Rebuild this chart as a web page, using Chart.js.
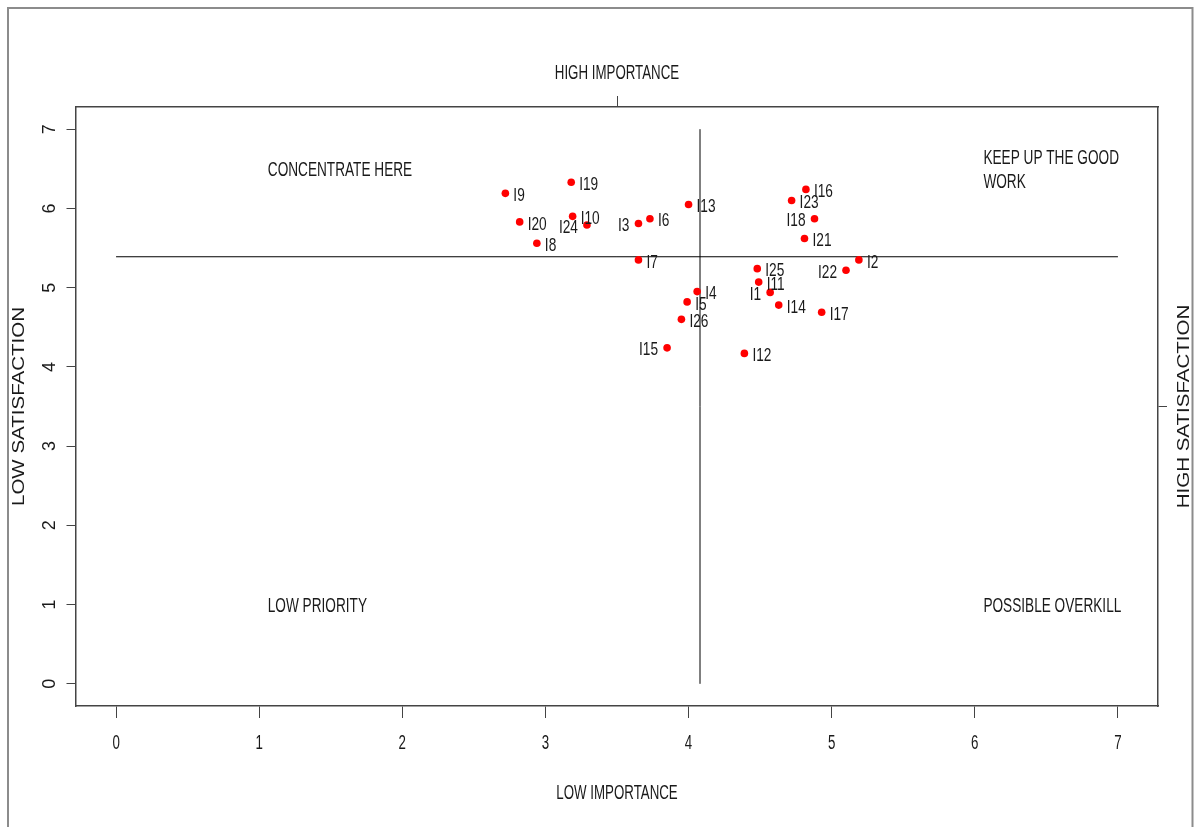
<!DOCTYPE html>
<html><head><meta charset="utf-8">
<script src="https://cdn.jsdelivr.net/npm/chart.js@4.4.1/dist/chart.umd.min.js"></script>
<style>html,body{margin:0;padding:0;background:#fff;overflow:hidden}canvas{display:block}</style>
</head><body>
<canvas id="c" width="1195" height="827"></canvas>
<script>
// ---- data ----
const itemLabels = ['I1','I2','I3','I4','I5','I6','I7','I8','I9','I10','I11','I12','I13',
                    'I14','I15','I16','I17','I18','I19','I20','I21','I22','I23','I24','I25','I26'];
const importance = [4.57,5.19,3.65,4.06,3.99,3.73,3.65,2.94,2.72,3.19,4.49,4.39,4.00,
                    4.63,3.85,4.82,4.93,4.88,3.18,2.82,4.81,5.10,4.72,3.29,4.48,3.95];
const satisfaction = [4.94,5.35,5.81,4.95,4.82,5.87,5.35,5.56,6.19,5.90,5.07,4.17,6.05,
                      4.78,4.24,6.24,4.69,5.87,6.33,5.83,5.62,5.22,6.10,5.79,5.24,4.60];
const labelSides = ['l','r','l','r','r','r','r','r','r','r','r','r','r',
                    'r','l','r','r','l','r','r','r','l','r','l','r','r'];
const xTickValues = [0,1,2,3,4,5,6,7];
const yTickValues = [0,1,2,3,4,5,6,7];
const meanImportance = 4.08;
const meanSatisfaction = 5.39;
const titleTop = 'HIGH IMPORTANCE';
const titleBottom = 'LOW IMPORTANCE';
const titleLeft = 'LOW SATISFACTION';
const titleRight = 'HIGH SATISFACTION';
const quadrantNotes = [
  {lines:['CONCENTRATE HERE'], x:1.06, y:6.5},
  {lines:['KEEP UP THE GOOD','WORK'], x:6.06, y:6.5},
  {lines:['LOW PRIORITY'], x:1.06, y:1.0},
  {lines:['POSSIBLE OVERKILL'], x:6.06, y:1.0}
];

// ---- styling ----
const FONT = '"Liberation Sans", Arial, sans-serif';
const TEXT = '#1a1a1a';
const AXIS = '#444';
const SQ = 0.665;

function sText(ctx, str, x, y, align, size, sx) {
  ctx.save();
  ctx.translate(x, y);
  ctx.scale(sx, 1);
  ctx.font = size + 'px ' + FONT;
  ctx.fillStyle = TEXT;
  ctx.textAlign = align;
  ctx.textBaseline = 'alphabetic';
  ctx.fillText(str, 0, size * 0.358);
  ctx.restore();
}
function vText(ctx, str, x, y, size, sq) {
  ctx.save();
  ctx.translate(x, y);
  ctx.rotate(-Math.PI / 2);
  ctx.scale(1, sq);
  ctx.font = size + 'px ' + FONT;
  ctx.fillStyle = TEXT;
  ctx.textAlign = 'center';
  ctx.textBaseline = 'alphabetic';
  ctx.fillText(str, 0, size * 0.358);
  ctx.restore();
}

const annotate = {
  id: 'annotate',
  afterDraw(chart) {
    const ctx = chart.ctx, xs = chart.scales.x, ys = chart.scales.y, ca = chart.chartArea;
    // x tick labels
    xs.ticks.forEach(t => sText(ctx, String(t.value), xs.getPixelForValue(t.value), ca.bottom + 36, 'center', 20, SQ));
    const cx = (ca.left + ca.right) / 2;
    const cy = (ca.top + ca.bottom) / 2;
    sText(ctx, titleTop, cx, 72, 'center', 20, SQ);
    sText(ctx, titleBottom, cx, ca.bottom + 86, 'center', 20, SQ);
    vText(ctx, titleLeft, 18, cy, 20.5, 0.83);
    vText(ctx, titleRight, 1183, cy, 20.5, 0.83);
    // point labels
    itemLabels.forEach((lab, i) => {
      const px = xs.getPixelForValue(importance[i]);
      const py = ys.getPixelForValue(satisfaction[i]) + 1;
      if (labelSides[i] === 'l') sText(ctx, lab, px - 9, py, 'right', 18.5, 0.74);
      else sText(ctx, lab, px + 8, py, 'left', 18.5, 0.74);
    });
    // quadrant notes
    quadrantNotes.forEach(n => {
      const px = xs.getPixelForValue(n.x);
      const py = ys.getPixelForValue(n.y);
      const n0 = (n.lines.length - 1) / 2;
      n.lines.forEach((ln, k) => sText(ctx, ln, px, py + (k - n0) * 24, 'left', 20.5, SQ));
    });
    // outer frame
    ctx.save();
    ctx.strokeStyle = '#8c8c8c';
    ctx.lineWidth = 2;
    ctx.beginPath();
    ctx.moveTo(8, 827); ctx.lineTo(8, 8); ctx.lineTo(1192.5, 8); ctx.lineTo(1192.5, 827);
    ctx.stroke();
    ctx.restore();
  }
};

const grid = (tl) => ({drawOnChartArea:false, drawTicks:true, tickLength:tl, color:AXIS, lineWidth:1});
const border = {display:true, color:AXIS, width:1.5};

new Chart(document.getElementById('c'), {
  type: 'scatter',
  data: {
    datasets: [
      {
        label: 'items',
        data: importance.map((v, i) => ({x: v, y: satisfaction[i]})),
        pointRadius: 3.8,
        pointBackgroundColor: '#ff0000',
        pointBorderColor: '#ff0000',
        pointBorderWidth: 0,
        xAxisID: 'x', yAxisID: 'y'
      },
      {
        label: 'vmean',
        data: [{x: meanImportance, y: yTickValues[0]}, {x: meanImportance, y: yTickValues[yTickValues.length - 1]}],
        showLine: true, pointRadius: 0, borderColor: '#000', borderWidth: 1,
        xAxisID: 'x', yAxisID: 'y'
      },
      {
        label: 'hmean',
        data: [{x: xTickValues[0], y: meanSatisfaction}, {x: xTickValues[xTickValues.length - 1], y: meanSatisfaction}],
        showLine: true, pointRadius: 0, borderColor: '#000', borderWidth: 1,
        xAxisID: 'x', yAxisID: 'y'
      }
    ]
  },
  options: {
    responsive: false,
    devicePixelRatio: 1,
    animation: false,
    events: [],
    layout: {padding: 0},
    plugins: {legend: {display: false}, tooltip: {enabled: false}, title: {display: false}},
    scales: {
      x: {
        type: 'linear', position: 'bottom', min: -0.28, max: 7.28,
        afterBuildTicks: s => { s.ticks = xTickValues.map(v => ({value: v})); },
        afterFit: s => { s.height = 121; },
        ticks: {display: false},
        grid: grid(12), border: border
      },
      x2: {
        type: 'linear', position: 'top', min: -0.28, max: 7.28,
        afterBuildTicks: s => { s.ticks = [{value: 3.5}]; },
        afterFit: s => { s.height = 107; },
        ticks: {display: false},
        grid: grid(11), border: border
      },
      y: {
        type: 'linear', position: 'left', min: -0.28, max: 7.28,
        afterBuildTicks: s => { s.ticks = yTickValues.map(v => ({value: v})); },
        afterFit: s => { s.width = 76; },
        ticks: {display: true, minRotation: 90, maxRotation: 90, crossAlign: 'center', padding: 11,
                color: TEXT, font: {family: FONT, size: 18}},
        title: {display: false, text: titleLeft},
        grid: grid(9.5), border: border
      },
      y2: {
        type: 'linear', position: 'right', min: -0.28, max: 7.28,
        afterBuildTicks: s => { s.ticks = [{value: 3.5}]; },
        afterFit: s => { s.width = 37; },
        ticks: {display: false},
        grid: grid(9), border: border
      }
    }
  },
  plugins: [annotate]
});
</script>
</body></html>
